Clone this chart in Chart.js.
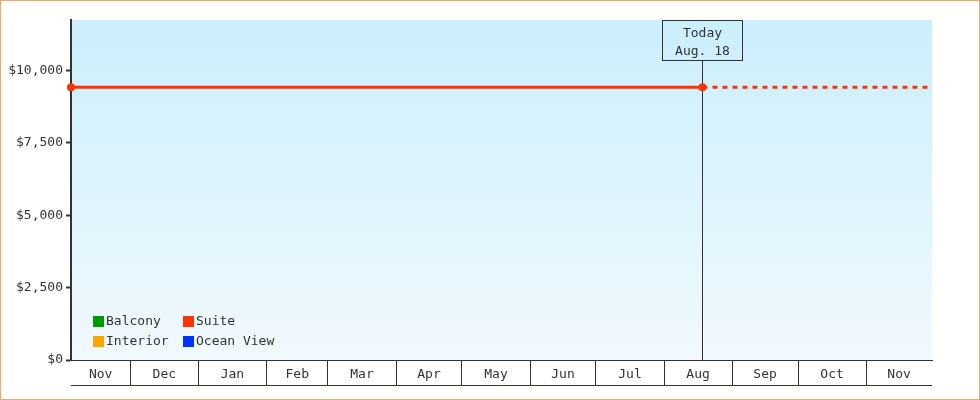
<!DOCTYPE html>
<html>
<head>
<meta charset="utf-8">
<script src="https://cdn.jsdelivr.net/npm/chart.js@4.4.0/dist/chart.umd.min.js"></script>
<style>
  html, body { margin: 0; padding: 0; background: #fff; }
  #wrap { width: 980px; height: 400px; box-sizing: border-box; border: 1px solid #eeaa66; position: relative; }
  canvas { display: block; }
</style>
</head>
<body>
<div id="wrap"><canvas id="priceChart"></canvas></div>
<script>
// days are counted from Nov 4 (day 0)
const monthLabels = ['Nov', 'Dec', 'Jan', 'Feb', 'Mar', 'Apr', 'May', 'Jun', 'Jul', 'Aug', 'Sep', 'Oct', 'Nov'];
const monthDays = [27, 31, 31, 28, 31, 30, 31, 30, 31, 31, 30, 31, 30];
const yTickValues = [0, 2500, 5000, 7500, 10000];
const yMax = 11750;
const todayDay = 287.5;
const todayText = ['Today', 'Aug. 18'];

const seriesNames = ['Balcony', 'Suite', 'Interior', 'Ocean View'];
const seriesColors = ['#009900', '#ff3300', '#ffa500', '#0033ff'];
const balconyDays = [];
const balconyPrices = [];
const suiteDays = [0, 287.5, 392];
const suitePrices = [9430, 9430, 9430];
const interiorDays = [];
const interiorPrices = [];
const oceanViewDays = [];
const oceanViewPrices = [];

const FONT = '"DejaVu Sans Mono", "Liberation Mono", monospace';
const INK = '#333';

const monthEdges = [0];
monthDays.forEach(d => monthEdges.push(monthEdges[monthEdges.length - 1] + d));
const xMax = monthEdges[monthEdges.length - 1];

function points(days, prices) {
    return days.map((d, i) => ({ x: d, y: prices[i] }));
}
const seriesPoints = [
    points(balconyDays, balconyPrices),
    points(suiteDays, suitePrices),
    points(interiorDays, interiorPrices),
    points(oceanViewDays, oceanViewPrices)
];

const chartExtras = {
    id: 'chartExtras',
    beforeDraw(chart) {
        const { ctx, chartArea: a } = chart;
        const g = ctx.createLinearGradient(0, a.top, 0, a.bottom);
        g.addColorStop(0, '#cbeffc');
        g.addColorStop(1, '#f1f9fe');
        ctx.save();
        ctx.fillStyle = g;
        ctx.fillRect(a.left, a.top, a.right - a.left, a.bottom - a.top);
        ctx.restore();
    },
    beforeDatasetsDraw(chart) {
        const { ctx, chartArea: a, scales } = chart;
        const x = Math.round(scales.x.getPixelForValue(todayDay)) + 0.5;
        ctx.save();
        ctx.strokeStyle = INK;
        ctx.lineWidth = 1;
        ctx.beginPath();
        ctx.moveTo(x, a.top + 40);
        ctx.lineTo(x, a.bottom);
        ctx.stroke();
        ctx.strokeRect(x - 40, a.top + 0.5, 80, 40);
        ctx.fillStyle = INK;
        ctx.font = '13px ' + FONT;
        ctx.textAlign = 'center';
        ctx.textBaseline = 'middle';
        ctx.fillText(todayText[0], x, a.top + 14);
        ctx.fillText(todayText[1], x, a.top + 32);
        ctx.restore();
    },
    afterDraw(chart) {
        const { ctx, chartArea: a, scales } = chart;
        ctx.save();
        ctx.fillStyle = INK;
        ctx.font = '13px ' + FONT;
        ctx.textAlign = 'center';
        ctx.textBaseline = 'middle';
        monthLabels.forEach((m, i) => {
            const mid = (monthEdges[i] + monthEdges[i + 1]) / 2;
            ctx.fillText(m, scales.x.getPixelForValue(mid), a.bottom + 15);
        });
        ctx.strokeStyle = INK;
        ctx.lineWidth = 1;
        ctx.beginPath();
        ctx.moveTo(a.left, a.bottom + 25.5);
        ctx.lineTo(a.right, a.bottom + 25.5);
        ctx.stroke();

        // legend, two columns inside the plot
        ctx.textAlign = 'left';
        seriesNames.forEach((name, i) => {
            const lx = a.left + 22 + (i % 2) * 90;
            const ly = a.bottom - 44 + Math.floor(i / 2) * 20;
            ctx.fillStyle = seriesColors[i];
            ctx.fillRect(lx, ly, 11, 11);
            ctx.fillStyle = INK;
            ctx.fillText(name, lx + 13, ly + 6);
        });
        ctx.restore();
    }
};

const ctx = document.getElementById('priceChart').getContext('2d');

new Chart(ctx, {
    type: 'line',
    data: {
        datasets: seriesNames.map((name, i) => ({
            label: name,
            data: seriesPoints[i],
            borderColor: seriesColors[i],
            backgroundColor: seriesColors[i],
            borderWidth: 3,
            pointRadius: c => (c.dataIndex === seriesPoints[i].length - 1 ? 0 : 4),
            pointBorderWidth: 0,
            pointHoverRadius: 0,
            clip: false,
            segment: {
                borderDash: s => (s.p0.parsed.x >= todayDay ? [5, 5] : undefined)
            }
        }))
    },
    options: {
        responsive: true,
        maintainAspectRatio: false,
        animation: false,
        layout: {
            padding: { top: 19, right: 47, bottom: 14, left: 0 }
        },
        scales: {
            x: {
                type: 'linear',
                min: 0,
                max: xMax,
                afterBuildTicks: scale => {
                    scale.ticks = monthEdges.map(v => ({ value: v }));
                },
                afterFit: scale => { scale.height = 25; },
                grid: {
                    drawOnChartArea: false,
                    tickLength: 25,
                    color: c => (c.tick && (c.tick.value === 0 || c.tick.value === xMax) ? 'rgba(0,0,0,0)' : INK),
                    lineWidth: 1
                },
                border: { color: INK, width: 1 },
                ticks: { display: false }
            },
            y: {
                min: 0,
                max: yMax,
                afterBuildTicks: scale => {
                    scale.ticks = yTickValues.map(v => ({ value: v }));
                },
                afterFit: scale => { scale.width = 70; },
                grid: {
                    drawOnChartArea: false,
                    tickLength: 5,
                    tickWidth: 2,
                    color: INK
                },
                border: { color: INK, width: 2 },
                ticks: {
                    padding: 3,
                    color: INK,
                    font: { family: FONT, size: 13 },
                    callback: v => '$' + v.toLocaleString('en-US')
                }
            }
        },
        plugins: {
            legend: { display: false },
            tooltip: { enabled: false }
        }
    },
    plugins: [chartExtras]
});
</script>
</body>
</html>
